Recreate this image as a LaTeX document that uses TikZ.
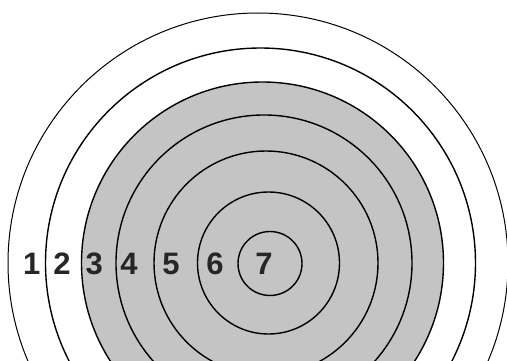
\documentclass[tikz,border=0pt]{standalone}
\usepackage{fontspec}
\setmainfont{Liberation Sans}
\begin{document}
\begin{tikzpicture}[x=1pt,y=-1pt,
  ring/.style={draw=black,line width=1.4pt},
  outerring/.style={draw=black,line width=1.0pt},
  num/.style={inner sep=0pt,text=black!85,font=\fontsize{31}{31}\selectfont\bfseries}]
\useasboundingbox (0,0) rectangle (507,361);
\clip (0,0) rectangle (507,361);
\fill[white] (0,0) rectangle (507,361);
% shaded disc
\fill[fill={rgb,255:red,196;green,196;blue,196}] (262.5,263) circle[radius=181];
% rings
\draw[outerring] (258,263) circle[radius=250];
\draw[ring] (260.5,263) circle[radius=215];
\draw[ring] (262.5,263) circle[radius=181];
\draw[ring] (264,263) circle[radius=148];
\draw[ring] (266,263) circle[radius=112];
\draw[ring] (268.5,263) circle[radius=71];
\draw[ring] (270,263.5) circle[radius=32];
% numbers
\node[num] (n1) at (31.7,263.5) {1};
\node[num] (n2) at (62,263.5) {2};
\node[num] (n3) at (94.3,263.5) {3};
\node[num] (n4) at (129,263.5) {4};
\node[num] (n5) at (171,263.5) {5};
\node[num] (n6) at (215,263.5) {6};
\node[num] (n7) at (264,263.5) {7};
\end{tikzpicture}
\end{document}
